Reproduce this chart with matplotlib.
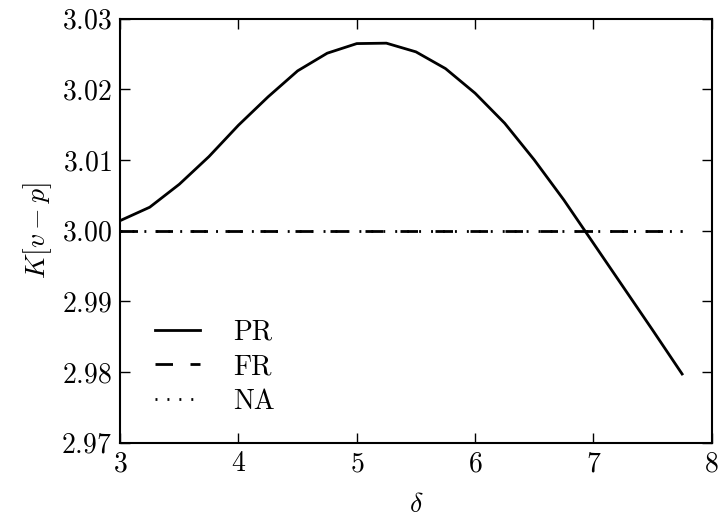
import matplotlib
matplotlib.use("Agg")
from matplotlib import pyplot as plt, rcParams

rcParams["font.family"] = "serif"
rcParams["font.serif"] = ["cmr10"]
rcParams["mathtext.fontset"] = "cm"
rcParams["axes.formatter.use_mathtext"] = True
rcParams["font.size"] = 20

# values
delta = [3.0, 3.25, 3.5, 3.75, 4.0, 4.25, 4.5, 4.75, 5.0, 5.25,
         5.5, 5.75, 6.0, 6.25, 6.5, 6.75, 7.0, 7.25, 7.5, 7.75]
k_pr = [3.00143, 3.00333, 3.00658, 3.01049, 3.01494, 3.01895, 3.02263,
        3.02513, 3.02649, 3.02655, 3.02532, 3.02295, 3.01947, 3.01522,
        3.01003, 3.00436, 2.99823, 2.99209, 2.98595, 2.97972]
k_fr = [3.0] * len(delta)
k_na = [3.0] * len(delta)

xticks = [3, 4, 5, 6, 7, 8]
yticks = [2.97, 2.98, 2.99, 3.00, 3.01, 3.02, 3.03]

fig = plt.figure(figsize=(7.24, 5.22), dpi=100)
ax = fig.add_axes([0.166, 0.152, 0.817, 0.812])

ax.plot(delta, k_pr, color="k", lw=2, label="PR")
ax.plot(delta, k_fr, color="k", lw=2, dashes=(6.3, 6.3), label="FR")
ax.plot(delta, k_na, color="k", lw=2, dashes=(0.7, 3.6), label="NA")

ax.set_xlim(3, 8)
ax.set_ylim(2.97, 3.03)
ax.set_xticks(xticks)
ax.set_yticks(yticks)
ax.yaxis.set_major_formatter(matplotlib.ticker.FormatStrFormatter("$%.2f$"))
ax.xaxis.set_major_formatter(matplotlib.ticker.FormatStrFormatter("$%d$"))
ax.tick_params(direction="in", length=7, width=1, top=True, right=True, pad=6)
for s in ax.spines.values():
    s.set_linewidth(1.5)

ax.set_xlabel(r"$\delta$", labelpad=10)
ax.set_ylabel(r"$K[v-p]$", labelpad=5)

ax.legend(loc="lower left", frameon=False, handlelength=1.6, handletextpad=1.2,
          labelspacing=0.3, borderaxespad=0.6, bbox_to_anchor=(0.012, 0.0))

fig.savefig("out.png", dpi=100)
